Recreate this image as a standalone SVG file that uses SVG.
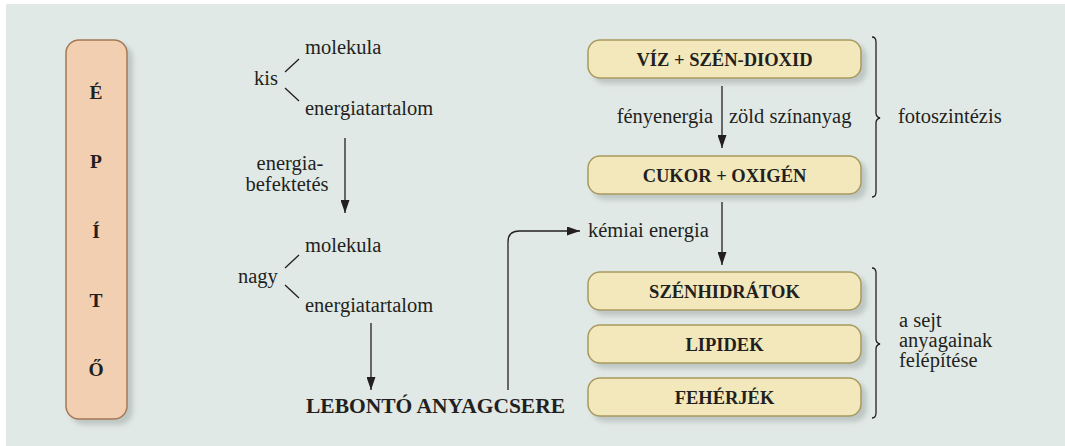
<svg xmlns="http://www.w3.org/2000/svg" width="1065" height="446" viewBox="0 0 1065 446">
<defs>
<style>
.t{font-size:20.5px;fill:#231f20}
.b{font-weight:bold;fill:#231f20}
.box{fill:#f2e8bb;stroke:#a89a5e;stroke-width:1.5}
.ln{stroke:#231f20;stroke-width:1.3;fill:none}
</style>
<filter id="sh" x="-10%" y="-10%" width="130%" height="140%">
<feDropShadow dx="5" dy="5" stdDeviation="2.5" flood-color="#9aa3a0" flood-opacity="0.5"/>
</filter>
<marker id="ah" markerWidth="13" markerHeight="9" viewBox="0 0 13 9" refX="13" refY="4.5" orient="auto" markerUnits="userSpaceOnUse">
<path d="M0,0 L13,4.5 L0,9 Z" fill="#231f20"/>
</marker>
</defs>
<rect x="0" y="0" width="1065" height="446" fill="#ffffff"/>
<rect x="6" y="4" width="1059" height="442" fill="#e1e9e6"/>

<g font-family="Liberation Serif, DejaVu Serif, serif">
<g id="epito">
<rect x="66" y="40" width="61" height="379" rx="13" fill="#f2cfb0" stroke="#a47a56" stroke-width="1.5" filter="url(#sh)"/>
<g class="b" font-size="19.5" text-anchor="middle">
<text x="96" y="99">É</text>
<text x="96" y="168">P</text>
<text x="96" y="238">Í</text>
<text x="96" y="307">T</text>
<text x="96" y="376">Ő</text>
</g>
</g>

<g id="kis">
<text class="t" x="254" y="85">kis</text>
<text class="t" x="305" y="54">molekula</text>
<text class="t" x="305" y="115">energiatartalom</text>
</g>

<g id="nagy">
<text class="t" x="238" y="283">nagy</text>
<text class="t" x="305" y="252">molekula</text>
<text class="t" x="305" y="312">energiatartalom</text>
</g>

<g id="befektetes">
<text class="t" x="290" y="170" text-anchor="middle">energia-</text>
<text class="t" x="287" y="191" text-anchor="middle">befektetés</text>
</g>

<g id="lebonto">
<text class="b" font-size="21.5" x="306" y="413">LEBONTÓ ANYAGCSERE</text>
</g>

<g id="viz">
<rect class="box" x="588" y="40" width="273" height="38" rx="12" filter="url(#sh)"/>
<text class="b" font-size="18.5" x="724.5" y="66" text-anchor="middle">VÍZ + SZÉN-DIOXID</text>
</g>
<g id="cukor">
<rect class="box" x="588" y="156" width="273" height="38" rx="12" filter="url(#sh)"/>
<text class="b" font-size="18.5" x="724.5" y="182" text-anchor="middle">CUKOR + OXIGÉN</text>
</g>
<g id="szenhidratok">
<rect class="box" x="588" y="272" width="273" height="38" rx="12" filter="url(#sh)"/>
<text class="b" font-size="18.5" x="724.5" y="298" text-anchor="middle">SZÉNHIDRÁTOK</text>
</g>
<g id="lipidek">
<rect class="box" x="588" y="325" width="273" height="38" rx="12" filter="url(#sh)"/>
<text class="b" font-size="18.5" x="724.5" y="351" text-anchor="middle">LIPIDEK</text>
</g>
<g id="feherjek">
<rect class="box" x="588" y="378" width="273" height="38" rx="12" filter="url(#sh)"/>
<text class="b" font-size="18.5" x="724.5" y="404" text-anchor="middle">FEHÉRJÉK</text>
</g>

<g id="labels">
<text class="t" x="713" y="123" text-anchor="end">fényenergia</text>
<text class="t" x="729" y="123">zöld színanyag</text>
<text class="t" x="588" y="237">kémiai energia</text>
<text class="t" x="898" y="123">fotoszintézis</text>
<text class="t" x="899" y="327">a sejt</text>
<text class="t" x="899" y="347">anyagainak</text>
<text class="t" x="899" y="367">felépítése</text>
</g>
</g>

<g id="connectors">
<line class="ln" x1="285" y1="72" x2="299" y2="59"/>
<line class="ln" x1="285" y1="88" x2="299" y2="101"/>
<line class="ln" x1="285" y1="268" x2="299" y2="255"/>
<line class="ln" x1="285" y1="285" x2="299" y2="298"/>
<line class="ln" x1="345" y1="138" x2="345" y2="213" marker-end="url(#ah)"/>
<line class="ln" x1="371" y1="323" x2="371" y2="390" marker-end="url(#ah)"/>
<path class="ln" d="M508,390 L508,242 Q508,231 519,231 L580,231" marker-end="url(#ah)"/>
<line class="ln" x1="722" y1="86" x2="722" y2="148" marker-end="url(#ah)"/>
<line class="ln" x1="722" y1="202" x2="722" y2="265" marker-end="url(#ah)"/>
<path class="ln" d="M872,37 Q876,37 876,42 L876,113 Q876,117 880,118 Q876,119 876,123 L876,192 Q876,197 872,197"/>
<path class="ln" d="M872,268 Q876,268 876,273 L876,339 Q876,343 880,344 Q876,345 876,349 L876,413 Q876,418 872,418"/>
</g>
</svg>
